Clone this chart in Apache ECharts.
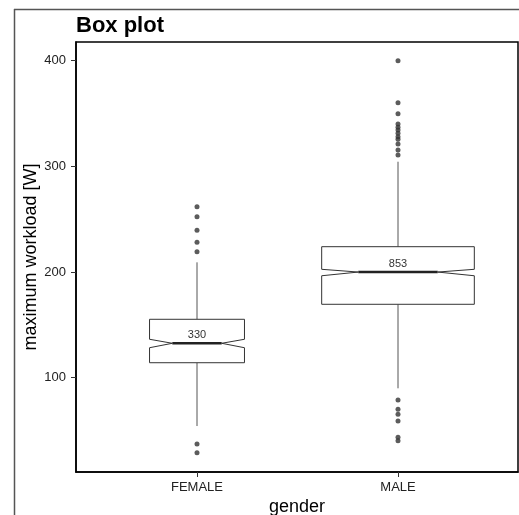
<!DOCTYPE html>
<html>
<head>
<meta charset="utf-8">
<script src="https://cdn.jsdelivr.net/npm/echarts@6/dist/echarts.min.js"></script>
<style>
html,body{margin:0;padding:0;background:#fff;}
#chart{width:519px;height:515px;}
</style>
</head>
<body>
<div id="chart"></div>
<script>
// ---- data ----
var categories = ['FEMALE', 'MALE'];
var counts = [330, 853];
var whiskerLow = [54.3, 90];
var q1 = [114.2, 169.5];
var notchLow = [128.4, 196.5];
var median = [132.6, 200];
var notchHigh = [136.4, 202.6];
var q3 = [155.3, 224];
var whiskerHigh = [209.2, 304.4];
var outliersFemale = [261.8, 252.4, 239.5, 228.1, 219.3, 37.3, 29];
var outliersMale = [400, 360.3, 349.8, 340.1, 337, 334.4, 331.3, 328.1, 325.6, 321.2, 315.5, 310.8, 78.9, 70.1, 65.4, 59, 43.6, 40.4];
var yTicks = [100, 200, 300, 400];

// ---- build series data ----
var boxData = categories.map(function (c, i) {
  return [i + 1, whiskerLow[i], q1[i], notchLow[i], median[i], notchHigh[i], q3[i], whiskerHigh[i], counts[i]];
});
var outlierData = [];
outliersFemale.forEach(function (v) { outlierData.push([1, v]); });
outliersMale.forEach(function (v) { outlierData.push([2, v]); });

var chart = echarts.init(document.getElementById('chart'), null, {renderer: 'canvas'});

function renderBox(params, api) {
  var x = api.value(0);
  var n = api.value(8);
  var w = 0.026 * Math.sqrt(n);
  var half = api.size([w, 0])[0] / 2;
  var pWL = api.coord([x, api.value(1)]);
  var pQ1 = api.coord([x, api.value(2)]);
  var pNL = api.coord([x, api.value(3)]);
  var pMed = api.coord([x, api.value(4)]);
  var pNH = api.coord([x, api.value(5)]);
  var pQ3 = api.coord([x, api.value(6)]);
  var pWH = api.coord([x, api.value(7)]);
  var cx = pMed[0];
  var L = cx - half, R = cx + half;
  var ind = half * 2 * 0.24;
  var pts = [
    [L, pQ3[1]], [R, pQ3[1]], [R, pNH[1]], [R - ind, pMed[1]], [R, pNL[1]],
    [R, pQ1[1]], [L, pQ1[1]], [L, pNL[1]], [L + ind, pMed[1]], [L, pNH[1]]
  ];
  return {
    type: 'group',
    children: [
      {type: 'line', shape: {x1: cx, y1: pQ3[1], x2: cx, y2: pWH[1]}, style: {stroke: '#555', lineWidth: 1}},
      {type: 'line', shape: {x1: cx, y1: pQ1[1], x2: cx, y2: pWL[1]}, style: {stroke: '#555', lineWidth: 1}},
      {type: 'polygon', shape: {points: pts}, style: {fill: '#fff', stroke: '#333', lineWidth: 1}},
      {type: 'line', shape: {x1: L + ind, y1: pMed[1], x2: R - ind, y2: pMed[1]}, style: {stroke: '#222', lineWidth: 2.5}},
      {type: 'text', x: cx, y: pMed[1] - 8, style: {text: String(n), fill: '#333', fontSize: 11, fontFamily: 'Liberation Sans, Arial, sans-serif', align: 'center', verticalAlign: 'middle'}}
    ]
  };
}

var option = {
  backgroundColor: '#fff',
  animation: false,
  title: {
    text: 'Box plot', left: 71, top: 10,
    textStyle: {fontSize: 22, fontWeight: 'bold', color: '#000', fontFamily: 'Liberation Sans, Arial, sans-serif'}
  },
  graphic: [
    {type: 'line', shape: {x1: 14, y1: 9.5, x2: 519, y2: 9.5}, style: {stroke: '#555', lineWidth: 1.5}},
    {type: 'line', shape: {x1: 14.5, y1: 9, x2: 14.5, y2: 515}, style: {stroke: '#555', lineWidth: 1.5}}
  ],
  grid: {left: 76, top: 42, width: 442, height: 430, show: true, borderColor: '#000', borderWidth: 1.5, backgroundColor: '#fff', outerBoundsMode: 'none', containLabel: false},
  xAxis: {
    type: 'value', min: 0.398, max: 2.597,
    name: 'gender', nameLocation: 'middle', nameGap: 26, nameMoveOverlap: false,
    nameTextStyle: {fontSize: 18, color: '#000', fontFamily: 'Liberation Sans, Arial, sans-serif'},
    axisLine: {show: true, lineStyle: {color: '#000', width: 1.5}},
    axisTick: {show: true, length: 5, customValues: [1, 2], lineStyle: {color: '#333'}},
    axisLabel: {show: true, customValues: [1, 2], margin: 9, fontSize: 13, color: '#222', fontFamily: 'Liberation Sans, Arial, sans-serif',
      formatter: function (v) { return categories[Math.round(v) - 1] || ''; }},
    splitLine: {show: false}
  },
  yAxis: {
    type: 'value', min: 10.8, max: 417.7,
    name: 'maximum workload [W]', nameLocation: 'middle', nameGap: 36, nameMoveOverlap: false,
    nameTextStyle: {fontSize: 18, color: '#000', fontFamily: 'Liberation Sans, Arial, sans-serif'},
    axisLine: {show: true, lineStyle: {color: '#000', width: 1.5}},
    axisTick: {show: true, length: 5, customValues: yTicks, lineStyle: {color: '#333'}},
    axisLabel: {show: true, customValues: yTicks, margin: 10, fontSize: 13, color: '#222', fontFamily: 'Liberation Sans, Arial, sans-serif'},
    splitLine: {show: false}
  },
  series: [
    {type: 'custom', renderItem: renderBox, data: boxData, encode: {x: 0, y: [1, 2, 3, 4, 5, 6, 7]}, z: 2},
    {type: 'scatter', data: outlierData, symbol: 'circle', symbolSize: 5, itemStyle: {color: '#333'}, z: 3}
  ]
};
chart.setOption(option);
</script>
</body>
</html>
